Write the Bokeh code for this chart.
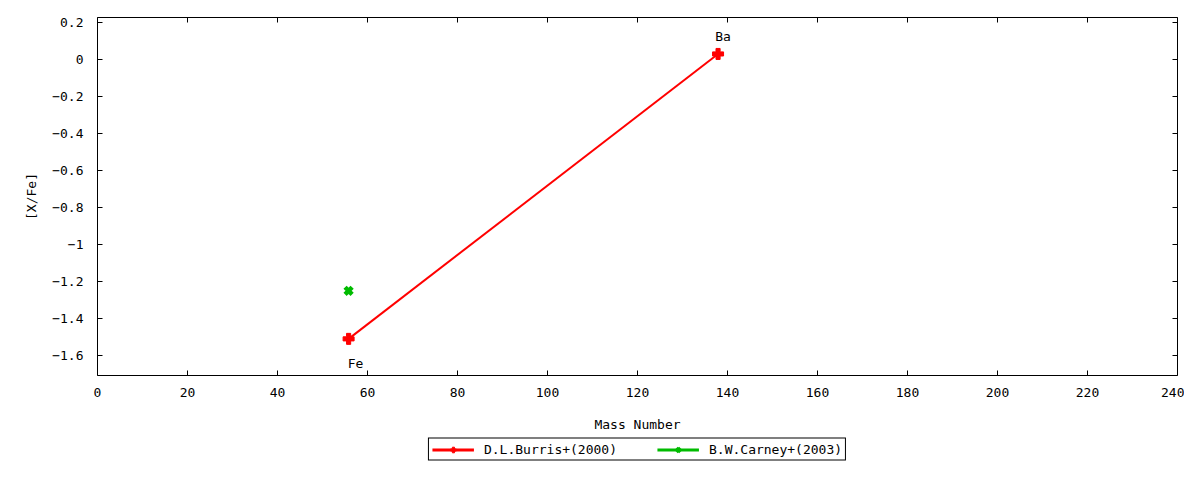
from bokeh.plotting import figure
from bokeh.layouts import column
from bokeh.models import (Range1d, LinearAxis, SingleIntervalTicker, Legend, LegendItem,
                          ColumnDataSource, CustomJSTickFormatter)
from bokeh.core.properties import value
from bokeh.embed import file_html
from bokeh.resources import INLINE

# data
burris_mass = [55.8, 137.9]
burris_xfe = [-1.51, 0.03]
burris_labels = ["Fe", "Ba"]
carney_mass = [55.8]
carney_xfe = [-1.25]
series_names = ["D.L.Burris+(2000)", "B.W.Carney+(2003)"]

x_ticks_step = 20
y_ticks_step = 0.2

FONT = "DejaVu Sans Mono"
FS = "13px"
RED = "red"
GREEN = "#00bb00"

p = figure(width=1184, height=434, output_backend="svg", toolbar_location=None,
           x_range=Range1d(0, 240), y_range=Range1d(-1.708, 0.227),
           min_border_left=97, min_border_right=7, min_border_top=17, min_border_bottom=59)
p.xgrid.visible = False
p.ygrid.visible = False
p.outline_line_color = "black"
p.outline_line_width = 1
p.outline_line_alpha = 1
p.background_fill_color = "white"

def style_axis(ax, labels=True):
    ax.major_tick_in = 5
    ax.major_tick_out = 0
    ax.minor_tick_line_color = None
    ax.axis_line_color = None
    ax.major_tick_line_color = "black"
    ax.major_label_text_font = FONT
    ax.major_label_text_font_size = FS
    ax.major_label_text_color = "black"
    ax.axis_label_text_font = FONT
    ax.axis_label_text_font_size = FS
    ax.axis_label_text_font_style = "normal"
    ax.axis_label_text_color = "black"
    if not labels:
        ax.formatter = CustomJSTickFormatter(code="return ''")
        ax.major_label_standoff = 0

p.xaxis.ticker = SingleIntervalTicker(interval=x_ticks_step)
p.yaxis.ticker = SingleIntervalTicker(interval=y_ticks_step)
p.xaxis.axis_label = "Mass Number"
p.yaxis.axis_label = "[X/Fe]"
style_axis(p.xaxis[0])
style_axis(p.yaxis[0])
p.xaxis.major_label_standoff = 8
p.xaxis.axis_label_standoff = 17
p.yaxis.major_label_standoff = 10
p.yaxis.axis_label_standoff = 10

top = LinearAxis(ticker=SingleIntervalTicker(interval=x_ticks_step))
style_axis(top, labels=False)
p.add_layout(top, "above")
right = LinearAxis(ticker=SingleIntervalTicker(interval=y_ticks_step))
style_axis(right, labels=False)
p.add_layout(right, "right")

src_b = ColumnDataSource(dict(x=burris_mass, y=burris_xfe, t=burris_labels))
src_c = ColumnDataSource(dict(x=carney_mass, y=carney_xfe))

p.line("x", "y", source=src_b, line_color=RED, line_width=2)
p.scatter("x", "y", source=src_b, marker="plus", size=11, color=RED, line_width=1)
p.scatter("x", "y", source=src_c, marker="x", size=10, color=GREEN, line_width=4.5)

# labels: Ba above, Fe below
src_ba = ColumnDataSource(dict(x=[burris_mass[1]], y=[burris_xfe[1]], t=[burris_labels[1]]))
src_fe = ColumnDataSource(dict(x=[burris_mass[0]], y=[burris_xfe[0]], t=[burris_labels[0]]))
p.text("x", "y", text="t", source=src_ba, text_font=value(FONT), text_font_size=FS,
       text_align="center", text_baseline="middle", x_offset=5, y_offset=-17, text_color="black")
p.text("x", "y", text="t", source=src_fe, text_font=value(FONT), text_font_size=FS,
       text_align="center", text_baseline="middle", x_offset=7, y_offset=25, text_color="black")

# legend-only strip below the plot
lf = figure(width=1184, height=30, output_backend="svg", toolbar_location=None,
            x_range=Range1d(0, 1), y_range=Range1d(0, 1),
            min_border_left=97, min_border_right=7, min_border_top=0, min_border_bottom=0)
lf.axis.visible = False
lf.grid.visible = False
lf.outline_line_color = None
lg1 = lf.line([-5, -4], [-5, -5], line_color=RED, line_width=3)
lg1b = lf.scatter([-5], [-5], marker="plus", size=11, color=RED, line_width=1)
lg2 = lf.line([-5, -4], [-5, -5], line_color=GREEN, line_width=3)
lg2b = lf.scatter([-5], [-5], marker="x", size=8, color=GREEN, line_width=3.5)

legend = Legend(items=[LegendItem(label=series_names[0], renderers=[lg1, lg1b]),
                       LegendItem(label=series_names[1], renderers=[lg2, lg2b])],
                orientation="horizontal", location="center",
                label_text_font=FONT, label_text_font_size=FS, label_text_color="black",
                border_line_color="black", border_line_width=1, border_line_alpha=1,
                background_fill_alpha=1, glyph_width=42, glyph_height=14,
                padding=3, spacing=40, label_standoff=10, margin=0)
lf.add_layout(legend, "center")

layout = column(p, lf, spacing=0)
open("out.html", "w").write(file_html(layout, INLINE))
